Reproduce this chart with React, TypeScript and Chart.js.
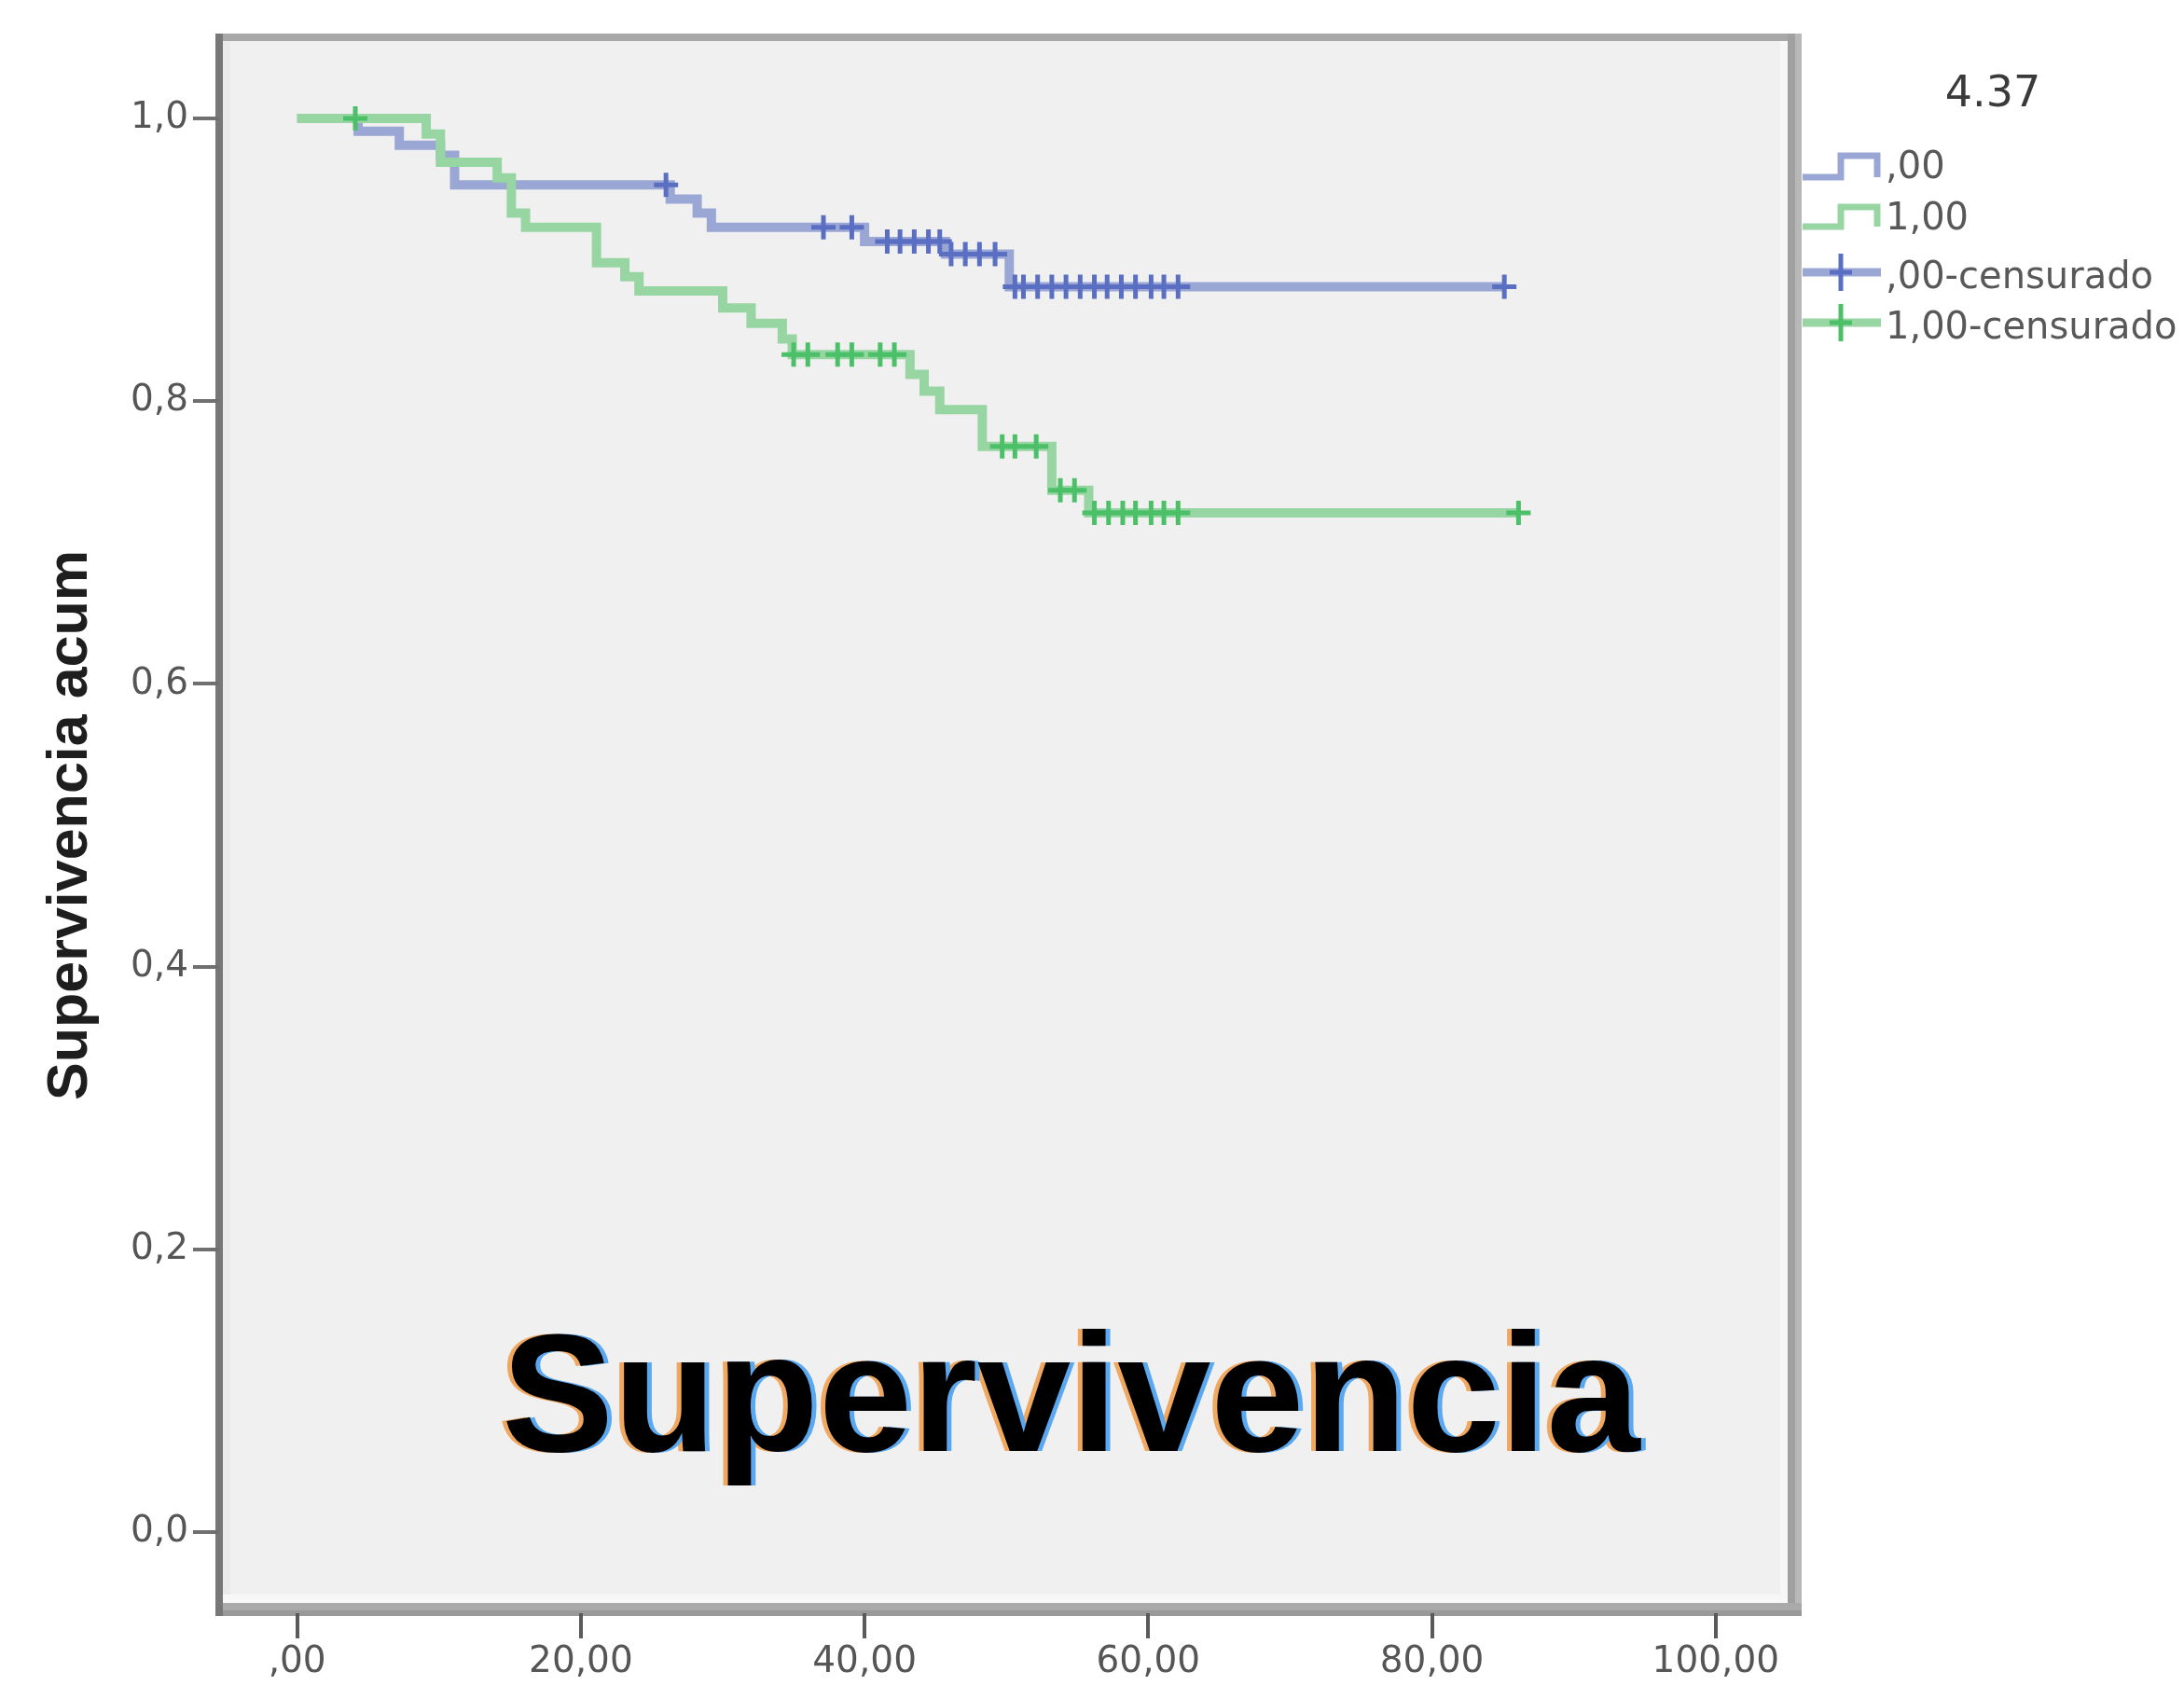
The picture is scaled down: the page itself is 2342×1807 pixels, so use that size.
import { useEffect, useRef } from 'react';
import { Chart, registerables } from 'chart.js';

Chart.register(...registerables);

const W = 2342;
const H = 1807;

// Axis ticks
const xTickValues = [0, 20, 40, 60, 80, 100];
const xTickLabels = [',00', '20,00', '40,00', '60,00', '80,00', '100,00'];
const yTickValues = [0, 0.2, 0.4, 0.6, 0.8, 1.0];
const yTickLabels = ['0,0', '0,2', '0,4', '0,6', '0,8', '1,0'];

// Texts
const yAxisTitle = 'Supervivencia acum';
const legendTitle = '4.37';
const legendLabels = [',00', '1,00', ',00-censurado', '1,00-censurado'];
const overlayText = 'Supervivencia';

// Group ,00 (blue): Kaplan-Meier step points (time, survival after step)
const blueTimes = [0, 4.3, 7.2, 10.1, 11.1, 26.3, 28.2, 29.2, 40.0, 45.7, 50.2, 85.1];
const blueSurv = [1.0, 0.991, 0.981, 0.974, 0.953, 0.943, 0.933, 0.923, 0.913, 0.904, 0.881, 0.881];
const blueCensorTimes = [26.0, 37.1, 39.1, 41.6, 42.5, 43.5, 44.5, 45.3, 46.1, 47.1, 48.1, 49.2, 50.6, 51.2, 52.2, 53.2, 54.2, 55.2, 56.2, 57.1, 58.1, 59.1, 60.2, 61.1, 62.1, 85.1];

// Group 1,00 (green)
const greenTimes = [0, 9.1, 10.1, 14.1, 15.1, 16.1, 21.1, 23.1, 24.1, 30.0, 32.0, 34.2, 34.9, 43.2, 44.2, 45.3, 48.3, 53.2, 55.8, 86.1];
const greenSurv = [1.0, 0.989, 0.969, 0.958, 0.933, 0.923, 0.898, 0.888, 0.878, 0.866, 0.855, 0.844, 0.833, 0.819, 0.807, 0.794, 0.768, 0.737, 0.721, 0.721];
const greenCensorTimes = [4.1, 35.0, 36.0, 38.1, 39.1, 41.1, 42.1, 49.7, 50.6, 52.1, 53.8, 54.8, 56.2, 57.2, 58.2, 59.1, 60.2, 61.1, 62.1, 86.1];

const BLUE_LINE = '#9aa7d5';
const BLUE_MARK = '#5b6fc2';
const GREEN_LINE = '#97d5a3';
const GREEN_MARK = '#4cc068';

function survivalAt(times: number[], surv: number[], t: number): number {
  let s = surv[0];
  for (let i = 0; i < times.length; i++) {
    if (times[i] <= t) s = surv[i];
  }
  return s;
}

const framePlugin = {
  id: 'frame',
  beforeDraw(chart: any) {
    const ctx = chart.ctx;
    const { left: L, right: R, top: T, bottom: B } = chart.chartArea;
    ctx.save();
    ctx.fillStyle = '#ffffff';
    ctx.fillRect(0, 0, W, H);
    // plot background
    ctx.fillStyle = '#f0f0f0';
    ctx.fillRect(L + 4, T + 4, R - L - 12, B - T - 15);
    // inner bevel strips
    ctx.fillStyle = '#eaeaea';
    ctx.fillRect(L + 4, T + 4, 8, B - T - 15);
    ctx.fillStyle = '#f7f7f7';
    ctx.fillRect(R - 16, T + 4, 8, B - T - 15);
    ctx.fillRect(L + 4, B - 20, R - L - 12, 9);
    // top border
    ctx.fillStyle = '#a8a8a8';
    ctx.fillRect(L - 4, T - 4, R - L + 11, 8);
    // right border
    ctx.fillStyle = '#a0a0a0';
    ctx.fillRect(R - 8, T - 4, 8, B - T + 7);
    ctx.fillStyle = '#b8b8b8';
    ctx.fillRect(R, T - 4, 7, B - T + 7);
    // bottom border
    ctx.fillStyle = '#aaaaaa';
    ctx.fillRect(L - 4, B - 11, R - L + 11, 8);
    ctx.fillStyle = '#999999';
    ctx.fillRect(L - 4, B - 3, R - L + 11, 6);
    // left border
    ctx.fillStyle = '#777777';
    ctx.fillRect(L - 4, T - 4, 8, B - T + 7);
    ctx.restore();
  },
};

const overlayPlugin = {
  id: 'overlay',
  afterDraw(chart: any) {
    const ctx = chart.ctx;
    const { left: L, right: R, bottom: B } = chart.chartArea;
    ctx.save();
    // big overlay text with colour fringes
    ctx.font = 'bold 180px "Liberation Sans", Arial, sans-serif';
    ctx.textAlign = 'left';
    ctx.textBaseline = 'alphabetic';
    const tx = L + 303;
    const ty = B - 174;
    ctx.fillStyle = '#f0a860';
    ctx.fillText(overlayText, tx - 5, ty);
    ctx.fillStyle = '#5aa8f0';
    ctx.fillText(overlayText, tx + 5, ty);
    ctx.fillStyle = '#000000';
    ctx.fillText(overlayText, tx, ty);

    // legend
    const x0 = R + 8;
    const xm = R + 49;
    const x1 = R + 88;
    const textX = R + 97;
    ctx.fillStyle = '#3a3a3a';
    ctx.font = '46px "DejaVu Sans", sans-serif';
    ctx.textAlign = 'center';
    ctx.fillText(legendTitle, R + 212, 114);

    ctx.lineCap = 'butt';
    ctx.lineJoin = 'miter';
    // step symbols
    const steps = [
      { low: 190, high: 167, color: BLUE_LINE },
      { low: 243, high: 222, color: GREEN_LINE },
    ];
    steps.forEach((s) => {
      ctx.strokeStyle = s.color;
      ctx.lineWidth = 7;
      ctx.beginPath();
      ctx.moveTo(x0, s.low);
      ctx.lineTo(xm, s.low);
      ctx.lineTo(xm, s.high);
      ctx.lineTo(x1, s.high);
      ctx.lineTo(x1, s.low);
      ctx.stroke();
    });
    // censored symbols
    const cens = [
      { y: 292, color: BLUE_LINE, mark: BLUE_MARK },
      { y: 346, color: GREEN_LINE, mark: GREEN_MARK },
    ];
    cens.forEach((c) => {
      ctx.strokeStyle = c.color;
      ctx.lineWidth = 9;
      ctx.beginPath();
      ctx.moveTo(x0, c.y);
      ctx.lineTo(x1 + 4, c.y);
      ctx.stroke();
      ctx.strokeStyle = c.mark;
      ctx.lineWidth = 5;
      ctx.beginPath();
      ctx.moveTo(xm, c.y - 20);
      ctx.lineTo(xm, c.y + 20);
      ctx.moveTo(xm - 12, c.y);
      ctx.lineTo(xm + 12, c.y);
      ctx.stroke();
    });
    ctx.fillStyle = '#585858';
    ctx.font = '40px "DejaVu Sans", sans-serif';
    ctx.textAlign = 'left';
    const baselines = [191, 246, 309, 363];
    legendLabels.forEach((lab, i) => ctx.fillText(lab, textX, baselines[i]));
    ctx.restore();
  },
};

export default function App() {
  const ref = useRef<HTMLCanvasElement | null>(null);

  useEffect(() => {
    document.body.style.margin = '0';
    const canvas = ref.current;
    if (!canvas) return;

    const blueLine = blueTimes.map((t, i) => ({ x: t, y: blueSurv[i] }));
    const greenLine = greenTimes.map((t, i) => ({ x: t, y: greenSurv[i] }));
    const blueCens = blueCensorTimes.map((t) => ({ x: t, y: survivalAt(blueTimes, blueSurv, t) }));
    const greenCens = greenCensorTimes.map((t) => ({ x: t, y: survivalAt(greenTimes, greenSurv, t) }));

    const tickFont = { family: '"DejaVu Sans", sans-serif', size: 39 };

    const chart = new Chart(canvas, {
      type: 'line',
      data: {
        datasets: [
          {
            label: legendLabels[3],
            data: greenCens,
            showLine: false,
            pointStyle: 'cross',
            pointRadius: 13,
            pointBorderWidth: 5,
            pointBorderColor: GREEN_MARK,
            pointBackgroundColor: GREEN_MARK,
            pointHoverRadius: 13,
          },
          {
            label: legendLabels[2],
            data: blueCens,
            showLine: false,
            pointStyle: 'cross',
            pointRadius: 13,
            pointBorderWidth: 5,
            pointBorderColor: BLUE_MARK,
            pointBackgroundColor: BLUE_MARK,
            pointHoverRadius: 13,
          },
          {
            label: legendLabels[1],
            data: greenLine,
            stepped: true,
            borderColor: GREEN_LINE,
            borderWidth: 10,
            pointRadius: 0,
            fill: false,
          },
          {
            label: legendLabels[0],
            data: blueLine,
            stepped: true,
            borderColor: BLUE_LINE,
            borderWidth: 10,
            pointRadius: 0,
            fill: false,
          },
        ],
      },
      options: {
        responsive: false,
        animation: false,
        devicePixelRatio: 1,
        events: [],
        layout: { padding: { left: 0, top: 40, right: W - 1925, bottom: 0 } },
        plugins: {
          legend: { display: false },
          tooltip: { enabled: false },
        },
        scales: {
          x: {
            type: 'linear',
            min: -5.5,
            max: 105.6,
            afterBuildTicks: (s: any) => {
              s.ticks = xTickValues.map((v) => ({ value: v }));
            },
            afterFit: (s: any) => {
              s.height = H - 1730;
            },
            grid: {
              drawOnChartArea: false,
              drawTicks: true,
              tickLength: 27,
              color: '#5a5a5a',
              lineWidth: 4,
            },
            border: { display: false },
            ticks: {
              autoSkip: false,
              maxRotation: 0,
              padding: 2,
              color: '#555555',
              font: tickFont,
              callback: (_v: any, i: number) => xTickLabels[i],
            },
          },
          y: {
            type: 'linear',
            min: -0.0574,
            max: 1.0574,
            afterBuildTicks: (s: any) => {
              s.ticks = yTickValues.map((v) => ({ value: v }));
            },
            afterFit: (s: any) => {
              s.width = 235;
            },
            grid: {
              drawOnChartArea: false,
              drawTicks: true,
              tickLength: 28,
              color: '#707070',
              lineWidth: 4,
            },
            border: { display: false },
            ticks: {
              autoSkip: false,
              padding: 5,
              color: '#555555',
              font: tickFont,
              callback: (_v: any, i: number) => yTickLabels[i],
            },
            title: {
              display: true,
              text: yAxisTitle,
              color: '#1e1e1e',
              font: { family: '"Liberation Sans", Arial, sans-serif', size: 61, weight: 'bold' },
              padding: { top: 40, bottom: 0 },
            },
          },
        },
      },
      plugins: [framePlugin, overlayPlugin],
    } as any);

    return () => {
      chart.destroy();
    };
  }, []);

  return (
    <canvas
      ref={ref}
      width={W}
      height={H}
      style={{ display: 'block', width: W + 'px', height: H + 'px' }}
    />
  );
}
